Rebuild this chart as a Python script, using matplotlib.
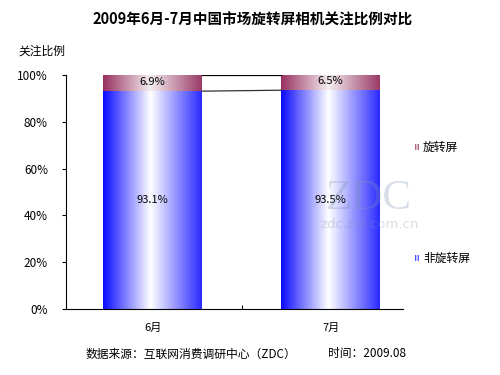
import numpy as np
import matplotlib
matplotlib.use("Agg")
import matplotlib.pyplot as plt
from matplotlib.colors import LinearSegmentedColormap

plt.rcParams['font.family'] = ['Noto Sans CJK SC', 'DejaVu Sans']

categories = ['6月', '7月']
non_rotating = [93.1, 93.5]
rotating = [6.9, 6.5]
yticks = [0, 20, 40, 60, 80, 100]
title = '2009年6月-7月中国市场旋转屏相机关注比例对比'

fig = plt.figure(figsize=(5, 3.75), dpi=100)
ax = fig.add_axes([66/500, 1-309/375, (403-66)/500, (309-75)/375])

x = np.arange(len(categories))
w = 0.556
b1 = ax.bar(x, non_rotating, width=w, color='none', edgecolor='none')
b2 = ax.bar(x, rotating, width=w, bottom=non_rotating, color='none', edgecolor='none')

blue_cmap = LinearSegmentedColormap.from_list('b', [(0, '#0a0aff'), (0.48, '#ffffff'), (1, '#2a2aff')])
red_cmap = LinearSegmentedColormap.from_list('r', [(0, '#98305f'), (0.48, '#f4eef0'), (1, '#9a3a66')])
grad = np.linspace(0, 1, 256).reshape(1, -1)

for bars, cmap in ((b1, blue_cmap), (b2, red_cmap)):
    for p in bars:
        x0, y0 = p.get_x(), p.get_y()
        ax.imshow(grad, cmap=cmap, aspect='auto', extent=(x0, x0 + p.get_width(), y0, y0 + p.get_height()),
                  zorder=2, interpolation='bilinear')

tops1 = list(non_rotating)
tops2 = [n + r for n, r in zip(non_rotating, rotating)]
ax.plot([x[0] + w/2, x[1] - w/2], [tops1[0], tops1[1]], color='#333333', lw=0.9, zorder=3)
ax.plot([x[0] + w/2, x[1] - w/2], [tops2[0], tops2[1]], color='black', lw=0.9, zorder=3)

for i in range(len(categories)):
    ax.text(x[i], non_rotating[i] / 2, f'{non_rotating[i]}%', ha='center', va='center', fontsize=8, zorder=4)
    ax.text(x[i], non_rotating[i] + rotating[i] / 2 + 0.6, f'{rotating[i]}%', ha='center', va='center', fontsize=8, zorder=4)

ax.set_xlim(-0.4865, 1.4065)
ax.set_ylim(0, 100)
ax.set_yticks(yticks)
ax.set_yticklabels([f'{t}%' for t in yticks], fontsize=8.5)
ax.tick_params(axis='y', direction='out', length=3, width=0.8, pad=10)
ax.set_xticks([0.5])
ax.set_xticklabels([''])
ax.tick_params(axis='x', direction='in', length=3, width=0.8)
ax.spines['top'].set_visible(False)
ax.spines['right'].set_visible(False)
ax.spines['left'].set_linewidth(0.8)
ax.spines['bottom'].set_linewidth(0.8)
for i, c in enumerate(categories):
    ax.text(x[i], -8, c, ha='center', va='center', fontsize=8, clip_on=False)

# watermark
fig.text(369/500, 1-199/375, 'ZDC', fontsize=31, color='#7f93b0', alpha=0.3, ha='center', va='center',
         family=['Liberation Serif'], zorder=5)
fig.text(370/500, 1-224/375, 'zdc.zol.com.cn', fontsize=9.5, color='#7f93b0', alpha=0.3,
         ha='center', va='center', family=['DejaVu Sans'], zorder=5)

fig.text(253/500, 1-20/375, title, fontsize=10.5, fontweight='bold', ha='center', va='center')
fig.text(18/500, 1-51/375, '关注比例', fontsize=8.5, ha='left', va='center')

# legend
for (yy, lab, cm) in ((147, '旋转屏', red_cmap), (258, '非旋转屏', blue_cmap)):
    lax = fig.add_axes([415/500, 1-(yy+3)/375, 4/500, 6/375])
    lax.imshow(grad, cmap=cm, aspect='auto')
    lax.axis('off')
    fig.text(423/500, 1-yy/375, lab, fontsize=8.5, ha='left', va='center')

fig.text(86/500, 1-354/375, '数据来源：互联网消费调研中心（ZDC）', fontsize=8.5, ha='left', va='center')
fig.text(328/500, 1-354/375, '时间：2009.08', fontsize=8.5, ha='left', va='center')

fig.savefig('out.png', dpi=100)
